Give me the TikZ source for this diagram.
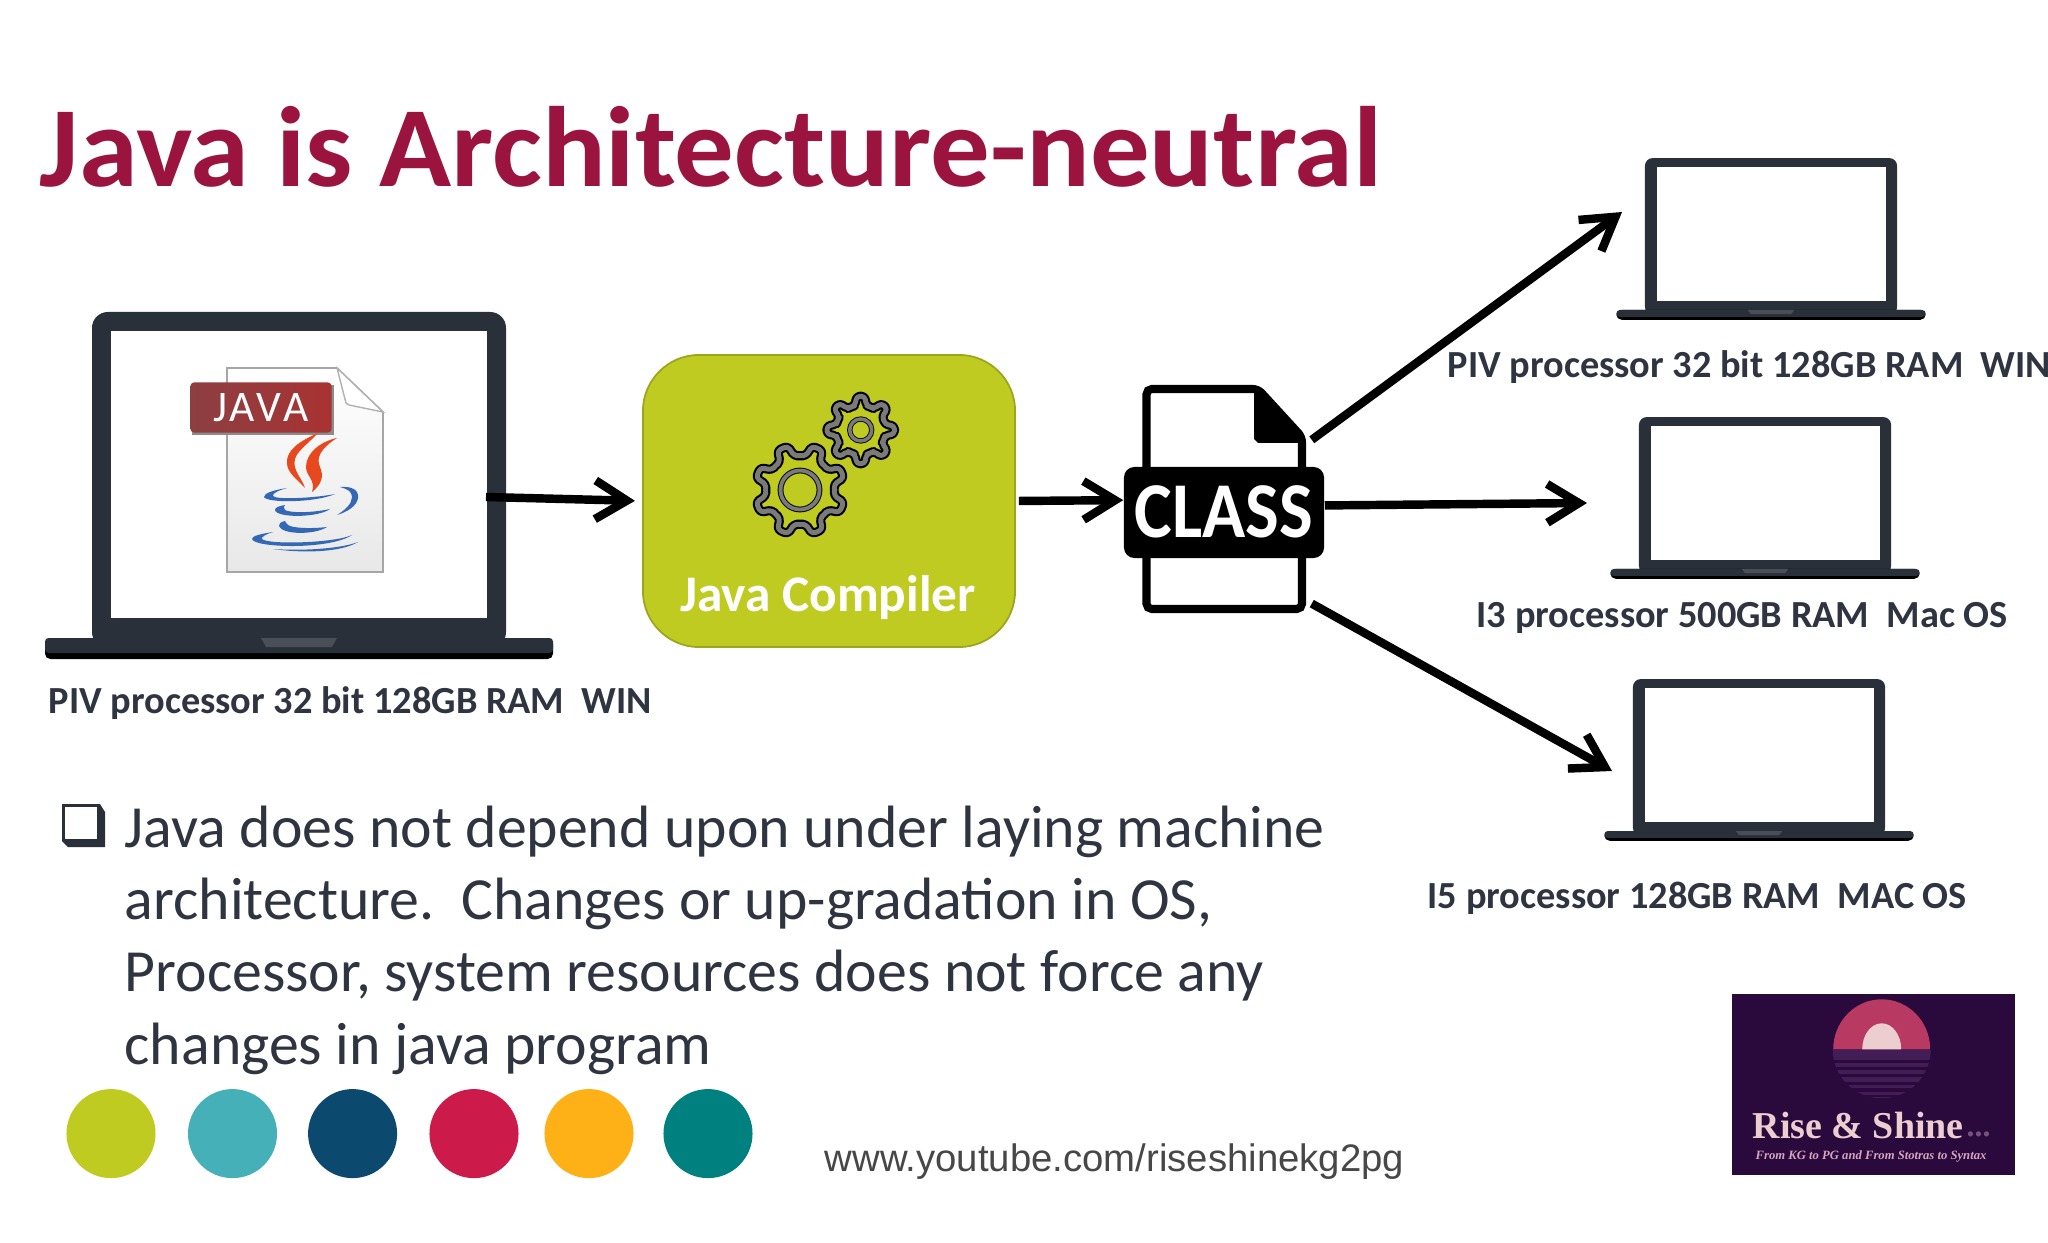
\documentclass[tikz,border=0pt]{standalone}
\usepackage{fontspec}
\setmainfont{Carlito}
\newfontfamily\urlfont{Liberation Sans}
\newfontfamily\logofont{Liberation Serif}
\usetikzlibrary{arrows.meta, positioning}

\definecolor{titlered}{HTML}{9B1440}
\definecolor{lapdark}{HTML}{2A303A}
\definecolor{textdark}{HTML}{2E3440}
\definecolor{compgreen}{HTML}{C0CB22}
\definecolor{compedge}{HTML}{9BA61E}
\definecolor{gearbody}{HTML}{7A7A7A}
\definecolor{tagred}{HTML}{A93232}
\definecolor{tagleft}{HTML}{8C3F42}
\definecolor{flame}{HTML}{E8481E}
\definecolor{cupblue}{HTML}{3568B4}
\definecolor{logobg}{HTML}{2A0A3C}
\definecolor{logosea}{HTML}{431E56}
\definecolor{logosun}{HTML}{B83A62}
\definecolor{logopale}{HTML}{ECCDD0}

\tikzset{
	arrowline/.style={line width=2.4pt, -{Straight Barb[length=9pt,width=11pt]}},
	lab/.style={font=\fontsize{10.9}{12}\selectfont\bfseries, text=textdark, anchor=base west, inner sep=0pt},
	dot/.style={circle, minimum size=0.89cm, inner sep=0pt},
	pics/laptop/.style={code={
		\fill[lapdark, rounded corners=#1] (-207,10) rectangle (207,-326);
		\fill[white] (-188,-307) rectangle (188,-20);
		\fill[black, rounded corners=1.5pt] (-254,0) rectangle (254,21);
		\fill[lapdark, rounded corners=1pt] (-254,0) rectangle (254,15);
		\fill[lapdark!85!white] (-38,0) -- (38,0) -- (33,9) -- (-33,9) -- cycle;
	}},
	pics/gear/.style n args={5}{code={
		\foreach \c/\w in {black/2.6pt, gearbody/1.4pt}{
			\draw[\c, line width=\w, line join=round, rounded corners=1pt] (#3-22.5:#2)
				\foreach \k in {0,...,7}{
					-- ({\k*45+#3-13}:#2) -- ({\k*45+#3-7}:#1) -- ({\k*45+#3+7}:#1) -- ({\k*45+#3+13}:#2) -- ({\k*45+#3+22.5}:#2)
				};
		}
		\draw[black, line width=#5*1.5] (0,0) circle (#4);
		\draw[gearbody, line width=#5] (0,0) circle (#4);
	}}
}

\begin{document}
\begin{tikzpicture}[x=0.01cm,y=-0.01cm]
	\useasboundingbox (0,0) rectangle (2048,1243);

	\node[font=\fontsize{32.5}{36}\selectfont\bfseries, text=titlered, anchor=base west, inner sep=0pt] (title) at (39,187) {\scalebox{1.04}[1]{Java is Architecture-neutral}};

	% laptops
	\pic at (299,638) {laptop=4.5pt};
	\pic[xscale=.609,yscale=.466] at (1771,310) {laptop=2.2pt};
	\pic[xscale=.609,yscale=.466] at (1765,569) {laptop=2.2pt};
	\pic[xscale=.609,yscale=.466] at (1759,831) {laptop=2.2pt};

	\node[lab] (labsrc) at (48,713.5) {PIV processor 32 bit 128GB RAM\ \ WIN};
	\node[lab] (labwin) at (1447,377.5) {PIV processor 32 bit 128GB RAM\ \ WIN};
	\node[lab] (labmac) at (1476,627) {I3 processor 500GB RAM\ \ Mac OS};
	\node[lab] (labosx) at (1427,908.5) {I5 processor 128GB RAM\ \ MAC OS};

	% java file
	\shade[draw=black!35, top color=white, bottom color=black!9, line width=.5pt] (227,368) -- (337,368) -- (383,412) -- (383,572) -- (227,572) -- cycle;
	\fill[white, draw=black!30, line width=.4pt] (337,368) -- (383,412) -- (349,405) -- (346,403) -- cycle;
	\fill[black!45] (192,385) rectangle (334,435);
	\node[left color=tagleft, right color=tagred, rounded corners=1pt, minimum width=1.41cm, minimum height=0.5cm, inner sep=0pt, text=white, font=\fontsize{12.4}{14}\selectfont, text depth=0pt] (javatag) at (261,407.5) {J\kern.6pt A\kern.6pt V\kern.6pt A};
	\fill[flame] (318,433) .. controls (300,441) and (286,450) .. (287,463) .. controls (287,473) and (298,480) .. (305,488) .. controls (302,478) and (292,470) .. (295,459) .. controls (297,451) and (310,442) .. (318,433);
	\fill[flame] (337,438) .. controls (322,441) and (306,452) .. (306,467) .. controls (306,476) and (316,480) .. (312,492) .. controls (322,484) and (324,476) .. (320,467) .. controls (316,458) and (320,449) .. (337,438);
	\fill[cupblue] (287,488) .. controls (274,490) and (264,493) .. (264,497) .. controls (266,503) and (315,503) .. (335,494) .. controls (315,498) and (276,500) .. (273,496) .. controls (272,493) and (280,490) .. (287,488);
	\fill[cupblue] (340,487) .. controls (352,486) and (359,490) .. (358,498) .. controls (357,506) and (347,512) .. (337,515) .. controls (345,510) and (352,504) .. (352,497) .. controls (352,491) and (347,489) .. (340,487);
	\fill[cupblue] (285,505) .. controls (278,506) and (275,508) .. (275,510) .. controls (276,518) and (318,518) .. (330,509) .. controls (312,513) and (290,513) .. (285,510) .. controls (283,508) and (284,506) .. (285,505);
	\fill[cupblue] (285,521) .. controls (280,522) and (279,524) .. (279,526) .. controls (282,535) and (315,535) .. (327,527) .. controls (310,529) and (292,528) .. (288,525) .. controls (286,524) and (286,522) .. (285,521);
	\fill[cupblue] (273,532) .. controls (260,534) and (252,536) .. (252,539) .. controls (254,548) and (330,550) .. (352,535) .. controls (335,543) and (268,545) .. (262,539) .. controls (261,537) and (266,534) .. (273,532);
	\fill[cupblue] (273,549) .. controls (300,553) and (340,553) .. (358,542) .. controls (340,549) and (300,551) .. (273,549);

	% compiler
	\node[draw=compedge, fill=compgreen, rounded corners=16pt, line width=.5pt, minimum width=3.72cm, minimum height=2.92cm] (compiler) at (829,501) {};
	\pic at (800,490) {gear={45.5}{34.5}{22.5}{19.5}{1.1pt}};
	\pic at (860.7,430) {gear={34}{25}{0}{11}{1pt}};
	\node[font=\fontsize{14.6}{17}\selectfont\bfseries, text=white, anchor=base, inner sep=0pt] (complabel) at (828,611) {Java Compiler};

	% class file
	\node[minimum width=1.74cm, minimum height=2.28cm, inner sep=0pt] (classfile) at (1224,499) {};
	\draw[black, fill=white, line width=2.3pt, rounded corners=1.5pt] (1146.5,389) -- (1258,389) -- (1302,437) -- (1302,609) -- (1146.5,609) -- cycle;
	\fill[black] (1254,389) -- (1260,389) -- (1302,437) -- (1302,443) -- (1258,443) -- (1254,439) -- cycle;
	\node[fill=black, rounded corners=3pt, minimum width=2cm, minimum height=0.91cm, inner sep=0pt, text=white, font=\fontsize{22.5}{24}\selectfont\bfseries] (classbanner) at (1224,512.5) {\raisebox{.6pt}{\scalebox{.9}[1]{CLASS}}};

	% connectors
	\coordinate (lapout) at (486,497);
	\coordinate (tipwin) at (1622,212);
	\coordinate (tipmac) at (1587,503);
	\coordinate (tiposx) at (1612,771);
	\draw[arrowline, shorten >=2pt] (lapout) -- (compiler.west);
	\draw[arrowline, shorten <=.8pt] (compiler.east) -- (classbanner.173);
	\draw[arrowline] (classfile.34) -- (tipwin);
	\draw[arrowline] (classbanner.4) -- (tipmac);
	\draw[arrowline] (classfile.-50) -- (tiposx);

	% bullet text
	\fill[lapdark] (62,804) -- (100,804) -- (105,812) -- (105,847) -- (68,847) -- (62,841) -- cycle;
	\node[fill=white, minimum width=0.32cm, minimum height=0.32cm, inner sep=0pt] (bulletbox) at (81,823) {};
	\node[font=\fontsize{17}{20.5}\selectfont, text=textdark, align=left, anchor=base west, inner sep=0pt] (bodytext) at (124,1064) {Java does not depend upon under laying machine\\architecture.\ \ Changes or up-gradation in OS,\\Processor, system resources does not force any\\changes in java program};

	% colour dots
	\foreach \nm/\x/\c in {dota/111/C0CB22, dotb/232.5/45B0B8, dotc/352.6/0B4A6E, dotd/474/CC1A4B, dote/589/FEB116, dotf/708/018080}{
		\definecolor{dotcol}{HTML}{\c}
		\node[dot, fill=dotcol] (\nm) at (\x,1133.6) {};
	}
	\node[font=\urlfont\fontsize{10.9}{12}\selectfont, text=black!72, anchor=base west, inner sep=0pt] (urltext) at (824,1171) {www.youtube.com/riseshinekg2pg};

	% logo
	\node[fill=logobg, minimum width=2.83cm, minimum height=1.8cm, inner sep=0pt] (logo) at (1873.4,1084.5) {};
	\fill[logosun] (1833.2,1049.3) arc[start angle=180, end angle=360, x radius=48.5, y radius=50];
	\fill[logopale] (1862.2,1049.3) arc[start angle=180, end angle=360, x radius=19.5, y radius=26];
	\begin{scope}
		\clip (1881.7,1049.3) circle (49);
		\foreach \ya/\yb in {1050/1060, 1062.7/1066.7, 1070/1074, 1077.3/1081.7, 1085/1088.3, 1091.7/1095, 1096.7/1098.3}{
			\fill[logosea] (1830,\ya) rectangle (1935,\yb);
		}
	\end{scope}
	\node[font=\logofont\fontsize{10.8}{13}\selectfont\bfseries, text=logopale, anchor=base west, inner sep=0pt] (logoname) at (1752,1138) {Rise \& Shine};
	\node[font=\logofont\fontsize{9}{10}\selectfont\bfseries, text=logosea!70!logopale, anchor=base west, inner sep=0pt] (logodots) at (1966,1136) {...};
	\node[font=\logofont\fontsize{3.6}{5}\selectfont\bfseries\itshape, text=logopale!80!violet, anchor=base west, inner sep=0pt] (logotag) at (1755,1159) {From KG to PG and From Stotras to Syntax};
\end{tikzpicture}
\end{document}
